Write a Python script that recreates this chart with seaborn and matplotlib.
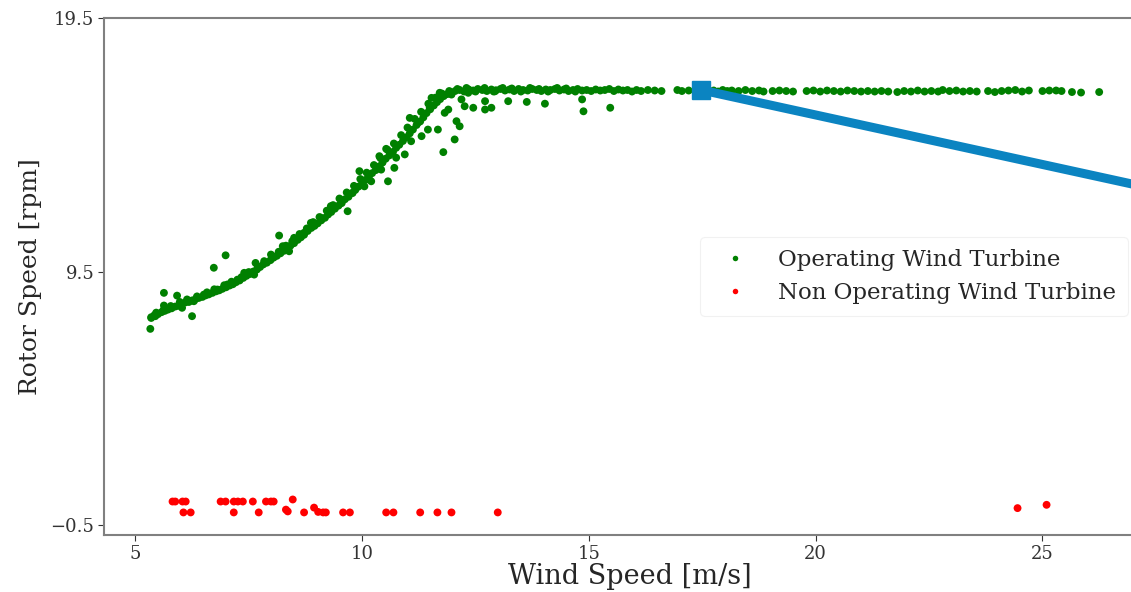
import numpy as np
import pandas as pd
import matplotlib
matplotlib.use("Agg")
import matplotlib.pyplot as plt
import seaborn as sns

# Operating turbine: wind speed [m/s] and rotor speed [rpm]
op_wind_ramp = [5.35, 5.42, 5.50, 5.58, 5.65, 5.72, 5.80, 5.88, 5.95, 6.02, 6.10, 6.18,
                6.25, 6.33, 6.40, 6.48, 6.55, 6.62, 6.70, 6.78, 6.85, 6.92, 7.00, 7.08,
                7.15, 7.22, 7.30, 7.38, 7.45, 7.52, 7.60, 7.68, 7.75, 7.82, 7.90, 7.98,
                8.05, 8.12, 8.20, 8.28, 8.35, 8.42, 8.50, 8.58, 8.65, 8.72, 8.80, 8.88,
                8.95, 9.02, 9.10, 9.18, 9.25, 9.32, 9.40, 9.48, 9.55, 9.62, 9.70, 9.78,
                9.85, 9.92, 10.00, 10.08, 10.15, 10.22, 10.30, 10.38, 10.45, 10.52, 10.60,
                10.68, 10.75, 10.82, 10.90, 10.98, 11.05, 11.12, 11.20, 11.28, 11.35,
                11.42, 11.50, 11.58, 11.65, 11.72, 11.80, 11.88, 11.95]
op_rotor_ramp = [7.70, 7.78, 7.82, 7.90, 7.95, 8.00, 8.05, 8.12, 8.15, 8.22, 8.28, 8.30,
                 8.36, 8.42, 8.46, 8.50, 8.56, 8.60, 8.66, 8.72, 8.76, 8.82, 8.88, 8.95,
                 9.00, 9.08, 9.15, 9.25, 9.33, 9.40, 9.50, 9.58, 9.68, 9.78, 9.85, 9.95,
                 10.05, 10.12, 10.22, 10.32, 10.45, 10.52, 10.62, 10.75, 10.85, 10.95,
                 11.10, 11.22, 11.30, 11.40, 11.52, 11.62, 11.75, 11.85, 11.98, 12.10,
                 12.20, 12.35, 12.45, 12.60, 12.72, 12.85, 12.98, 13.12, 13.25, 13.38,
                 13.50, 13.65, 13.80, 13.95, 14.08, 14.22, 14.38, 14.50, 14.65, 14.80,
                 14.95, 15.10, 15.28, 15.42, 15.58, 15.75, 15.90, 16.05, 16.18, 16.30,
                 16.42, 16.50, 16.56]

# second, looser row along the ramp (points either side of the main band)
op_wind_band = [5.46, 5.62, 5.78, 5.98, 6.14, 6.36, 6.58, 6.74, 6.96, 7.12, 7.34, 7.50,
                7.70, 7.86, 8.02, 8.16, 8.32, 8.46, 8.62, 8.78, 8.92, 9.06, 9.22, 9.36,
                9.50, 9.66, 9.82, 9.96, 10.10, 10.26, 10.40, 10.56, 10.70, 10.86, 11.00,
                11.16, 11.30, 11.46, 11.62, 11.76, 11.92]
op_rotor_band = [7.88, 7.98, 8.14, 8.30, 8.40, 8.52, 8.68, 8.80, 8.96, 9.10, 9.28, 9.48,
                 9.70, 9.86, 10.10, 10.28, 10.52, 10.70, 10.98, 11.20, 11.45, 11.65, 11.90,
                 12.12, 12.38, 12.62, 12.88, 13.15, 13.40, 13.70, 13.98, 14.30, 14.55,
                 14.88, 15.18, 15.52, 15.80, 16.12, 16.36, 16.52, 16.62]

op_wind_scatter = [5.33, 5.35, 5.44, 5.63, 5.63, 5.92, 6.03, 6.25, 6.29, 6.51, 6.73, 6.81,
                   6.99, 7.03, 7.25, 7.40, 7.62, 7.65, 7.84, 7.99, 8.17, 8.25, 8.39, 8.50,
                   8.72, 8.87, 9.09, 9.31, 9.54, 9.68, 9.79, 9.94, 10.05, 10.20, 10.38,
                   10.42, 10.53, 10.57, 10.71, 10.75, 10.94, 11.05, 11.08, 11.23, 11.31,
                   11.45, 11.49, 11.53, 11.67, 11.71, 11.79, 11.82, 11.90, 11.97, 12.04,
                   12.08, 12.15, 12.19, 12.26, 12.34, 12.45, 12.71, 12.71, 12.85, 12.93,
                   13.22, 13.63, 14.03, 14.85, 14.88, 15.47]
op_rotor_scatter = [7.24, 7.67, 7.74, 8.66, 8.16, 8.55, 8.07, 7.74, 8.33, 8.59, 9.65, 8.79,
                    10.14, 8.99, 9.18, 9.45, 9.38, 9.84, 9.91, 10.17, 10.92, 10.50, 10.30,
                    10.83, 11.03, 11.42, 11.62, 12.08, 12.27, 11.88, 12.60, 13.46, 12.86,
                    13.06, 14.05, 13.52, 14.34, 13.06, 13.59, 13.99, 14.12, 15.56, 14.64,
                    15.37, 14.84, 15.10, 15.96, 16.35, 15.10, 16.55, 14.21, 15.76, 15.89,
                    16.48, 14.71, 15.43, 15.23, 16.29, 16.02, 16.55, 15.96, 16.22, 15.89,
                    15.96, 16.61, 16.22, 16.19, 16.12, 16.29, 15.82, 15.96]

op_wind_rated = [12.05, 12.10, 12.15, 12.25, 12.30, 12.35, 12.45, 12.50, 12.55, 12.65,
                 12.70, 12.75, 12.85, 12.90, 12.95, 13.05, 13.10, 13.15, 13.25, 13.30,
                 13.35, 13.45, 13.50, 13.55, 13.65, 13.70, 13.75, 13.85, 13.90, 13.95,
                 14.05, 14.10, 14.15, 14.25, 14.30, 14.35, 14.45, 14.50, 14.55, 14.65,
                 14.70, 14.75, 14.85, 14.95, 15.05, 15.15, 15.25, 15.35, 15.45, 15.55,
                 15.65, 15.75, 15.85, 15.95, 16.05, 16.15, 16.30, 16.45, 16.60, 16.95,
                 17.05, 17.20, 17.75, 17.85, 17.95, 18.05, 18.15, 18.30, 18.45, 18.60,
                 18.75, 18.85, 19.05, 19.20, 19.35, 19.50, 19.80, 19.95, 20.10, 20.25,
                 20.40, 20.55, 20.70, 20.85, 21.00, 21.15, 21.30, 21.45, 21.60, 21.80,
                 21.95, 22.10, 22.25, 22.40, 22.55, 22.70, 22.80, 22.95, 23.10, 23.25,
                 23.40, 23.55, 23.80, 23.95, 24.10, 24.25, 24.40, 24.55, 24.70, 25.00,
                 25.15, 25.30, 25.42, 25.65, 25.85, 26.25]
op_rotor_rated = [16.62, 16.70, 16.66, 16.60, 16.74, 16.68, 16.64, 16.60, 16.70, 16.66,
                  16.74, 16.62, 16.68, 16.60, 16.65, 16.70, 16.74, 16.64, 16.68, 16.72,
                  16.62, 16.70, 16.60, 16.66, 16.64, 16.74, 16.70, 16.66, 16.70, 16.62,
                  16.68, 16.60, 16.66, 16.70, 16.74, 16.64, 16.68, 16.72, 16.62, 16.66,
                  16.60, 16.70, 16.64, 16.66, 16.62, 16.68, 16.64, 16.66, 16.70, 16.62,
                  16.68, 16.64, 16.66, 16.60, 16.66, 16.62, 16.66, 16.64, 16.62, 16.66,
                  16.62, 16.64, 16.64, 16.60, 16.66, 16.62, 16.64, 16.62, 16.66, 16.62,
                  16.64, 16.60, 16.62, 16.64, 16.62, 16.60, 16.62, 16.64, 16.60, 16.64,
                  16.62, 16.60, 16.64, 16.62, 16.60, 16.62, 16.60, 16.62, 16.60, 16.58,
                  16.62, 16.60, 16.64, 16.60, 16.62, 16.60, 16.66, 16.62, 16.64, 16.60,
                  16.62, 16.60, 16.62, 16.58, 16.62, 16.64, 16.66, 16.60, 16.64, 16.62,
                  16.64, 16.64, 16.62, 16.58, 16.56, 16.58]

# Non operating turbine
non_wind = [5.82, 5.88, 6.04, 6.11, 6.88, 6.99, 7.17, 7.26, 7.37, 7.59, 7.88, 7.99, 8.05,
            8.47, 6.06, 6.22, 7.17, 7.72, 8.32, 8.36, 8.72, 8.94, 9.03, 9.14, 9.20, 9.58,
            9.73, 10.53, 10.69, 11.28, 11.66, 11.97, 12.99, 24.45, 25.09]
non_rotor = [0.43, 0.43, 0.43, 0.43, 0.43, 0.43, 0.43, 0.43, 0.43, 0.43, 0.43, 0.43, 0.43,
             0.51, 0.00, 0.00, 0.00, 0.00, 0.11, 0.04, 0.00, 0.19, 0.02, 0.00, 0.00, 0.00,
             0.00, 0.00, 0.00, 0.00, 0.00, 0.00, 0.00, 0.17, 0.30]

# highlighted point and zoom connector
marker_pt = (17.48, 16.66)
connector_end = (30.0, 11.77)

op_wind = op_wind_ramp + op_wind_band + op_wind_scatter + op_wind_rated
op_rotor = op_rotor_ramp + op_rotor_band + op_rotor_scatter + op_rotor_rated

df = pd.DataFrame({
    "wind": op_wind + non_wind,
    "rotor": op_rotor + non_rotor,
    "status": ["Operating Wind Turbine"] * len(op_wind)
    + ["Non Operating Wind Turbine"] * len(non_wind),
})

sns.set_style("ticks")
plt.rcParams["font.family"] = ["DejaVu Serif"]

fig = plt.figure(figsize=(11.31, 5.92), dpi=100)
ax = fig.add_axes([0.092, 0.0963, 0.93, 0.8733])

sns.scatterplot(
    data=df, x="wind", y="rotor", hue="status",
    palette={"Operating Wind Turbine": "green", "Non Operating Wind Turbine": "red"},
    s=32, linewidth=0, ax=ax,
)

# zoom connector line + square
ax.plot([marker_pt[0], connector_end[0]], [marker_pt[1], connector_end[1]],
        color="#0B84C1", linewidth=6.5, solid_capstyle="butt", zorder=4)
ax.plot(marker_pt[0], marker_pt[1], marker="s", markersize=13,
        markerfacecolor="#0B84C1", markeredgecolor="#0B84C1", zorder=5)

ax.set_xlim(4.31, 27.5)
ax.set_ylim(-0.89, 19.5)
ax.set_xticks([5, 10, 15, 20, 25])
ax.set_yticks([-0.5, 9.5, 19.5])
ax.tick_params(labelsize=13, colors="#333333", length=4, pad=3)
for side in ["left", "bottom", "top"]:
    ax.spines[side].set_color("#808080")
    ax.spines[side].set_linewidth(1.5)
ax.spines["right"].set_visible(False)

ax.set_xlabel("Wind Speed [m/s]", fontsize=19.5, labelpad=0)
ax.set_ylabel("Rotor Speed [rpm]", fontsize=18, labelpad=6)

leg = ax.legend(loc="center left", bbox_to_anchor=(0.556, 0.5), fontsize=16.5,
                markerscale=0.7, frameon=True, handletextpad=0.9, borderpad=0.5)
leg.get_frame().set_edgecolor("#eeeeee")
leg.get_frame().set_linewidth(0.8)

fig.savefig("out.png", dpi=100)
